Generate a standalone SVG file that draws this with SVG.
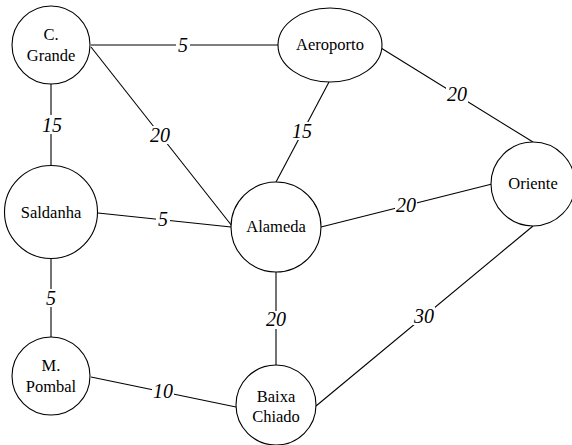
<svg xmlns="http://www.w3.org/2000/svg" width="572" height="445" viewBox="0 0 572 445">
<rect width="572" height="445" fill="#fff"/>
<g id="edges" stroke="#000" stroke-width="1.1" fill="none">
<line x1="91" y1="45" x2="278" y2="45"/>
<line x1="91" y1="47" x2="232" y2="226"/>
<line x1="329" y1="82" x2="276" y2="182"/>
<line x1="381" y1="48" x2="533" y2="142"/>
<line x1="51" y1="84" x2="51" y2="166"/>
<line x1="98" y1="213" x2="231" y2="227"/>
<line x1="321" y1="227" x2="492" y2="184"/>
<line x1="51" y1="259" x2="51" y2="337"/>
<line x1="276" y1="272" x2="276" y2="367"/>
<line x1="91" y1="377" x2="236" y2="407"/>
<line x1="533" y1="226" x2="316" y2="406"/>
</g>
<g id="labels">
<rect x="176" y="36" width="14" height="18" fill="#fff"/>
<rect x="150" y="126" width="21" height="18" fill="#fff"/>
<rect x="41" y="115" width="22" height="19" fill="#fff"/>
<rect x="291" y="122" width="22" height="18" fill="#fff"/>
<rect x="446" y="85" width="22" height="18" fill="#fff"/>
<rect x="395" y="196" width="22" height="18" fill="#fff"/>
<rect x="156" y="210" width="14" height="18" fill="#fff"/>
<rect x="44" y="289" width="14" height="18" fill="#fff"/>
<rect x="265" y="311" width="22" height="18" fill="#fff"/>
<rect x="152" y="382" width="22" height="18" fill="#fff"/>
<rect x="413" y="307" width="22" height="18" fill="#fff"/>
<text x="183" y="52" font-family="Liberation Serif" font-style="italic" font-size="20" text-anchor="middle">5</text>
<text x="160" y="142" font-family="Liberation Serif" font-style="italic" font-size="20" text-anchor="middle">20</text>
<text x="52" y="132" font-family="Liberation Serif" font-style="italic" font-size="20" text-anchor="middle">15</text>
<text x="302" y="138" font-family="Liberation Serif" font-style="italic" font-size="20" text-anchor="middle">15</text>
<text x="457" y="101" font-family="Liberation Serif" font-style="italic" font-size="20" text-anchor="middle">20</text>
<text x="406" y="212" font-family="Liberation Serif" font-style="italic" font-size="20" text-anchor="middle">20</text>
<text x="163" y="226" font-family="Liberation Serif" font-style="italic" font-size="20" text-anchor="middle">5</text>
<text x="51" y="305" font-family="Liberation Serif" font-style="italic" font-size="20" text-anchor="middle">5</text>
<text x="276" y="326" font-family="Liberation Serif" font-style="italic" font-size="20" text-anchor="middle">20</text>
<text x="163" y="398" font-family="Liberation Serif" font-style="italic" font-size="20" text-anchor="middle">10</text>
<text x="424" y="323" font-family="Liberation Serif" font-style="italic" font-size="20" text-anchor="middle">30</text>
</g>
<g id="cgrande"><circle fill="#fff" stroke="#000" stroke-width="1.1" cx="51" cy="45" r="39"/><text x="51" y="40" font-family="Liberation Serif" font-size="16.5" text-anchor="middle">C.</text><text x="51" y="61" font-family="Liberation Serif" font-size="16.5" text-anchor="middle">Grande</text></g>
<g id="aeroporto"><ellipse fill="#fff" stroke="#000" stroke-width="1.1" cx="330" cy="45" rx="52" ry="37"/><text x="330" y="50" font-family="Liberation Serif" font-size="16.5" text-anchor="middle">Aeroporto</text></g>
<g id="saldanha"><circle fill="#fff" stroke="#000" stroke-width="1.1" cx="51" cy="212" r="46.5"/><text x="51" y="218" font-family="Liberation Serif" font-size="16.5" text-anchor="middle">Saldanha</text></g>
<g id="alameda"><circle fill="#fff" stroke="#000" stroke-width="1.1" cx="276" cy="227" r="45"/><text x="276" y="232" font-family="Liberation Serif" font-size="16.5" text-anchor="middle">Alameda</text></g>
<g id="oriente"><circle fill="#fff" stroke="#000" stroke-width="1.1" cx="533" cy="184" r="42"/><text x="533" y="189" font-family="Liberation Serif" font-size="16.5" text-anchor="middle">Oriente</text></g>
<g id="mpombal"><circle fill="#fff" stroke="#000" stroke-width="1.1" cx="51" cy="376" r="39"/><text x="51" y="371" font-family="Liberation Serif" font-size="16.5" text-anchor="middle">M.</text><text x="51" y="392" font-family="Liberation Serif" font-size="16.5" text-anchor="middle">Pombal</text></g>
<g id="baixachiado"><circle fill="#fff" stroke="#000" stroke-width="1.1" cx="276" cy="405" r="40"/><text x="276" y="402" font-family="Liberation Serif" font-size="16.5" text-anchor="middle">Baixa</text><text x="276" y="422" font-family="Liberation Serif" font-size="16.5" text-anchor="middle">Chiado</text></g>
</svg>
